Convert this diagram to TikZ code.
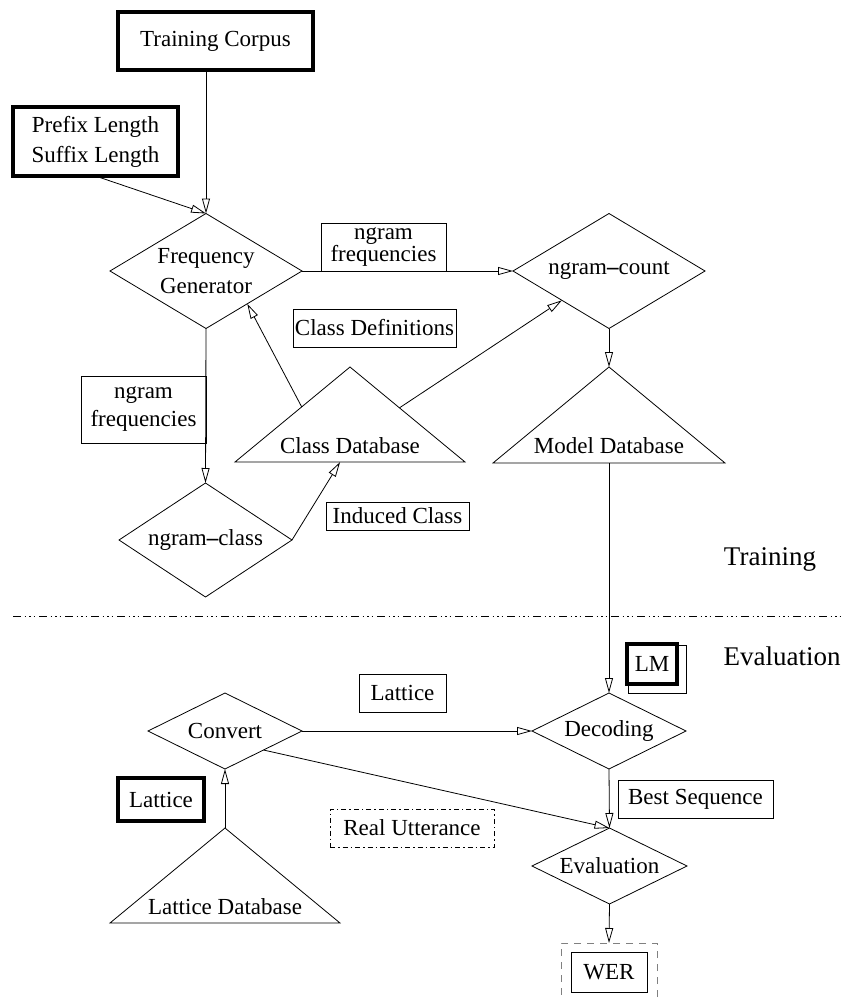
\documentclass[tikz,border=0pt]{standalone}
\usepackage{fontspec}
\setmainfont{Liberation Serif}
\usetikzlibrary{shapes.geometric,arrows.meta,calc}
\begin{document}
\begin{tikzpicture}[x=1pt,y=-1pt,
  every node/.style={inner sep=0pt,outer sep=0pt},
  txt/.style={font=\fontsize{23}{28}\selectfont,align=center},
  sidelbl/.style={font=\fontsize{27}{32}\selectfont},
  box/.style={draw,line width=0.8pt,txt},
  thickbox/.style={draw,line width=3.3pt,txt},
  dia/.style={draw,diamond,line width=0.8pt},
  conn/.style={line width=0.8pt,-{Triangle[open,length=15pt,width=8pt]}},
  tri/.style={draw,line width=0.8pt,line join=miter}
]
\useasboundingbox (0,0) rectangle (844,999);

% --- Training part ---
\node[thickbox,minimum width=195,minimum height=58] (tc) at (215.5,41) {Training Corpus};
\node[thickbox,minimum width=165,minimum height=69,font=\fontsize{23}{30}\selectfont] (ps) at (95.5,141.5) {Prefix Length\\Suffix Length};

\node[dia,minimum width=192,minimum height=115,label={[txt,font=\fontsize{23}{30}\selectfont]center:{Frequency\\Generator}}] (fg) at (206,271) {};
\node[dia,minimum width=192,minimum height=115,label={[txt]center:{ngram{\bfseries –}count}}] (nc) at (609,271) {};
\node[dia,minimum width=173,minimum height=114,label={[txt]center:{ngram{\bfseries –}class}}] (ncl) at (205.5,540) {};

\node[box,minimum width=125,minimum height=48,font=\fontsize{23}{19}\selectfont] (nf1) at (383.5,247) {ngram\\frequencies};
\node[box,minimum width=125,minimum height=67,font=\fontsize{23}{28}\selectfont] (nf2) at (143.5,409.5) {ngram\\frequencies};
\node[box,minimum width=163,minimum height=38] (cdef) at (374.5,328) {Class Definitions};
\node[box,minimum width=143,minimum height=28] (ind) at (397.5,516) {Induced Class};

% Class Database triangle
\coordinate (cdA) at (350,367);
\coordinate (cdL) at (235,462);
\coordinate (cdR) at (465,462);
\draw[tri] (cdA) -- (cdL) -- (cdR) -- cycle;
\node[txt] (cdb) at (350,446) {Class Database};

% Model Database triangle
\coordinate (mdA) at (609,367);
\coordinate (mdL) at (493,463);
\coordinate (mdR) at (725,463);
\draw[tri] (mdA) -- (mdL) -- (mdR) -- cycle;
\node[txt] (mdb) at (609,446) {Model Database};

\node[sidelbl] (trlbl) at (770,559) {Training};

% separator
\coordinate (sepL) at (13,616);
\coordinate (sepR) at (844,616);
\draw[line width=0.8pt,dash pattern=on 8pt off 3.5pt on 1.5pt off 3pt on 1.5pt off 3pt on 1.5pt off 4pt] (sepL) -- (sepR);

\node[sidelbl] (evlbl) at (782,656) {Evaluation};

% --- Evaluation part ---
\draw[line width=0.8pt] (628,645) rectangle (686,693);
\node[thickbox,minimum width=50,minimum height=40,fill=white] (lm) at (652,664) {LM};

\node[dia,minimum width=154,minimum height=76,label={[txt]center:{Decoding}}] (dec) at (609,731) {};
\node[dia,minimum width=154,minimum height=76,label={[txt]center:{Convert}}] (conv) at (225,731) {};
\node[dia,minimum width=155,minimum height=76,label={[txt]center:{Evaluation}}] (ev) at (609.5,866) {};

\node[box,minimum width=87,minimum height=38] (lat1) at (402.5,693) {Lattice};
\node[thickbox,minimum width=86,minimum height=43] (lat2) at (161,799.5) {Lattice};
\node[box,minimum width=164,minimum height=38,dash pattern=on 5pt off 3pt on 1.5pt off 3pt] (ru) at (412,828) {Real Utterance};
\node[box,minimum width=155,minimum height=38] (bs) at (695.5,799) {Best Sequence};

% Lattice Database triangle
\coordinate (ldA) at (225,828);
\coordinate (ldL) at (110,923);
\coordinate (ldR) at (340,923);
\draw[tri] (ldA) -- (ldL) -- (ldR) -- cycle;
\node[txt] (ldb) at (225,907) {Lattice Database};

\node[draw,gray,line width=0.8pt,dash pattern=on 7pt off 6pt,minimum width=96,minimum height=62] (werout) at (609,974) {};
\node[box,minimum width=76,minimum height=40] (wer) at (609,972) {WER};

% --- connectors ---
\draw[conn] (tc.south -| fg.north) -- (fg.north);
\draw[conn] (ps.south) -- (fg.north);
\draw[conn] (fg.east) -- (nc.west);
\draw[conn] (fg.south) -- (ncl.north);
\draw[conn] ($(cdA)!0.42!(cdL)$) -- ($(fg.east)!0.57!(fg.south)$);
\draw[conn] ($(cdA)!0.43!(cdR)$) -- ($(nc.west)!0.51!(nc.south)$);
\draw[conn] (nc.south) -- (mdA);
\draw[conn] (ncl.east) -- ($(cdL)!0.457!(cdR)$);
\draw[conn] ($(mdL)!0.5!(mdR)$) -- (dec.north);
\draw[conn] (conv.east) -- (dec.west);
\draw[conn] (ldA) -- (conv.south);
\draw[conn] ($(conv.east)!0.5!(conv.south)$) -- (ev.north);
\draw[conn] (dec.south) -- (ev.north);
\draw[conn] (ev.south) -- (werout.north);
\end{tikzpicture}
\end{document}
